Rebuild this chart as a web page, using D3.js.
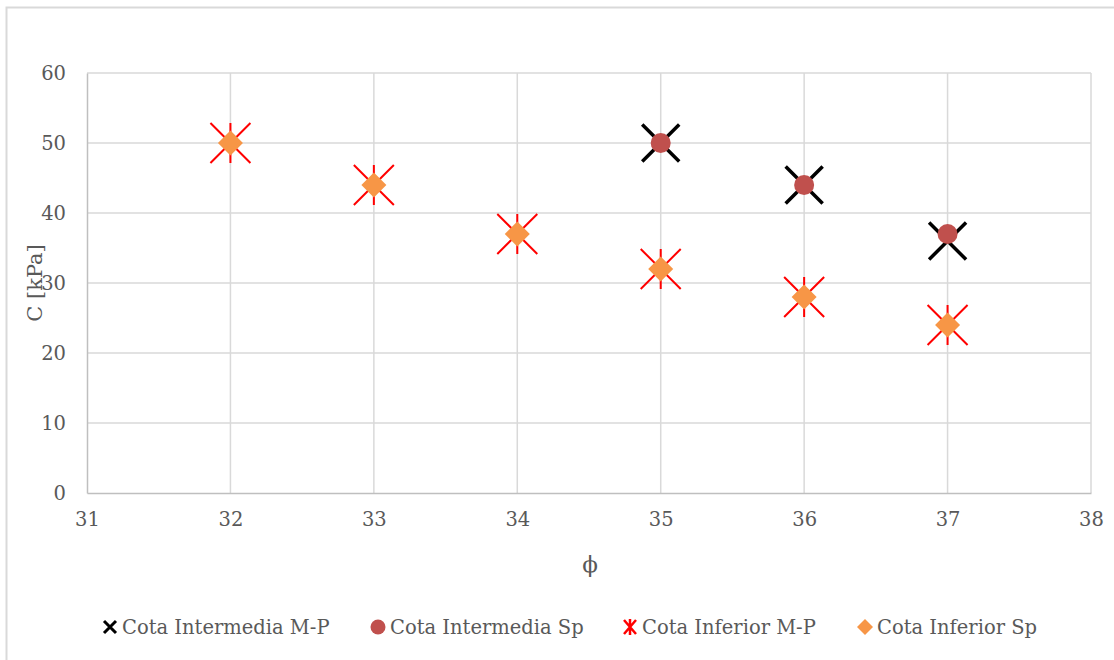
<!DOCTYPE html>
<html><head><meta charset="utf-8">
<script src="https://cdn.jsdelivr.net/npm/d3@7"></script>
<style>body{margin:0;background:#fff}svg text{font-family:"DejaVu Serif",serif;fill:#595959}</style>
</head><body><svg id="c" width="1114" height="660"></svg>
<script>
const xTicks=[31,32,33,34,35,36,37,38];
const yTicks=[0,10,20,30,40,50,60];
const interX=[35,36,37];
const interMP=[50,44,36];
const interSp=[50,44,37];
const infX=[32,33,34,35,36,37];
const infMP=[50,44,37,32,28,24];
const infSp=[50,44,37,32,28,24];
const legendLabels=["Cota Intermedia M-P","Cota Intermedia Sp","Cota Inferior M-P","Cota Inferior Sp"];

const svg=d3.select("#c");
svg.append("path").attr("d","M6.5,660 V7.5 H1114").attr("fill","none").attr("stroke","#d9d9d9").attr("stroke-width",2);
const x=d3.scaleLinear().domain([31,38]).range([87,1091]);
const y=d3.scaleLinear().domain([0,60]).range([493,73]);
const g=svg.append("g");
g.selectAll(".vg").data(xTicks.slice(1)).enter().append("line").attr("x1",d=>x(d)).attr("x2",d=>x(d)).attr("y1",y(0)).attr("y2",y(60)).attr("stroke","#d9d9d9").attr("stroke-width",1.5);
g.selectAll(".hg").data(yTicks.slice(1)).enter().append("line").attr("x1",x(31)).attr("x2",x(38)).attr("y1",d=>y(d)).attr("y2",d=>y(d)).attr("stroke","#d9d9d9").attr("stroke-width",1.5);
const xa=g.append("g").attr("transform",`translate(0,${y(0)})`).call(d3.axisBottom(x).tickValues(xTicks).tickFormat(d3.format("d")).tickSize(0).tickPadding(19));
const ya=g.append("g").attr("transform",`translate(${x(31)},0)`).call(d3.axisLeft(y).tickValues(yTicks).tickFormat(d3.format("d")).tickSize(0).tickPadding(21));
[xa,ya].forEach(a=>{a.select(".domain").attr("stroke","#bfbfbf").attr("stroke-width",1.5);a.selectAll("text").attr("font-size",19.5).style("font-family","'DejaVu Serif',serif").attr("fill","#595959");});
svg.append("text").attr("x",590).attr("y",572).attr("text-anchor","middle").attr("font-size",23).text("ϕ");
svg.append("text").attr("transform","translate(42,283) rotate(-90)").attr("text-anchor","middle").attr("font-size",21).text("C [kPa]");

function xMark(sel,cx,cy,r,color,w){
  sel.append("path").attr("d",`M${cx-r},${cy-r}L${cx+r},${cy+r}M${cx-r},${cy+r}L${cx+r},${cy-r}`).attr("stroke",color).attr("stroke-width",w).attr("fill","none");
}
function starMark(sel,cx,cy,r,color,w){
  sel.append("path").attr("d",`M${cx-r},${cy-r}L${cx+r},${cy+r}M${cx-r},${cy+r}L${cx+r},${cy-r}M${cx},${cy-r}L${cx},${cy+r}`).attr("stroke",color).attr("stroke-width",w).attr("fill","none");
}
function diamond(sel,cx,cy,r,color){
  sel.append("path").attr("d",`M${cx},${cy-r}L${cx+r},${cy}L${cx},${cy+r}L${cx-r},${cy}Z`).attr("fill",color);
}
const m=svg.append("g");
interX.forEach((v,i)=>xMark(m,x(v),y(interMP[i]),18.5,"#000",3.5));
interX.forEach((v,i)=>m.append("circle").attr("cx",x(v)).attr("cy",y(interSp[i])).attr("r",10).attr("fill","#c0504d"));
infX.forEach((v,i)=>starMark(m,x(v),y(infMP[i]),20,"#ff0000",2));
infX.forEach((v,i)=>diamond(m,x(v),y(infSp[i]),12.5,"#f79646"));

const lg=svg.append("g");
const lx=[100,368,620,855];
legendLabels.forEach((t,i)=>{
  const cx=lx[i]+10, cy=627;
  if(i===0) xMark(lg,cx,cy,6,"#000",3);
  if(i===1) lg.append("circle").attr("cx",cx).attr("cy",cy).attr("r",7.5).attr("fill","#c0504d");
  if(i===2) {lg.append("path").attr("d",`M${cx-6},${cy-7}L${cx+6},${cy+7}M${cx-6},${cy+7}L${cx+6},${cy-7}M${cx},${cy-8}L${cx},${cy+8}`).attr("stroke","#ff0000").attr("stroke-width",2.5);}
  if(i===3) diamond(lg,cx,cy,8,"#f79646");
  lg.append("text").attr("x",lx[i]+22).attr("y",cy+7).attr("font-size",19.5).text(t);
});
</script></body></html>
